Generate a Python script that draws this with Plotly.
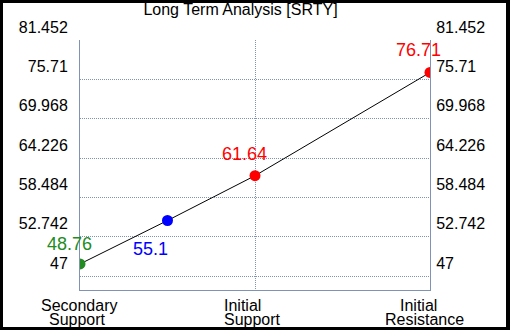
import plotly.graph_objects as go

title_text = "Long Term Analysis [SRTY]"
categories = ["Secondary Support", "Initial Support", "Initial Resistance"]
cat_pos = [0, 1, 2]
point_x = [0, 0.5, 1, 2]
point_y = [48.76, 55.1, 61.64, 76.71]
point_colors = ["#228b22", "#0000ff", "#ff0000", "#ff0000"]
y_ticks = [47, 52.742, 58.484, 64.226, 69.968, 75.71, 81.452]
y_tick_text = ["47", "52.742", "58.484", "64.226", "69.968", "75.71", "81.452"]

W, H = 510, 330
ML, MR, MT, MB = 80, 80, 40, 40
PW, PH = W - ML - MR, H - MT - MB
axis_color = "#8093b3"
font_family = "Liberation Sans, Arial, sans-serif"

def px_x(p):
    return (p - ML) / PW

def px_y(p):
    return (H - MB - p) / PH

fig = go.Figure()
fig.add_trace(go.Scatter(
    x=point_x, y=point_y, mode="lines+markers",
    line=dict(color="black", width=1),
    marker=dict(color=point_colors, size=11),
    hoverinfo="skip", showlegend=False,
))
# invisible trace to make the right axis render
fig.add_trace(go.Scatter(
    x=point_x, y=point_y, yaxis="y2", mode="markers",
    marker=dict(opacity=0), hoverinfo="skip", showlegend=False,
))

label_shift = [(-11, 20), (-17, -28), (-11, 22), (-12, 22)]
for xv, yv, c, (dx, dy) in zip(point_x, point_y, point_colors, label_shift):
    fig.add_annotation(
        x=xv, y=yv, xref="x", yref="y", text=f"{yv:g}", showarrow=False,
        xshift=dx, yshift=dy, xanchor="center", yanchor="middle",
        font=dict(size=18, color=c, family=font_family),
    )

line_shifts = [[-1, -2.5], [-12.5, -3], [-12, -5.5]]
for cx, name, shifts in zip(cat_pos, categories, line_shifts):
    for i, (part, sx) in enumerate(zip(name.split(" "), shifts)):
        fig.add_annotation(
            x=cx, y=0, xref="x", yref="paper", text=part, showarrow=False,
            xanchor="center", yanchor="top", xshift=sx, yshift=-5 - 14 * i,
            font=dict(size=16, color="black", family=font_family),
        )

fig.add_shape(
    type="rect", xref="paper", yref="paper",
    x0=px_x(3), x1=px_x(506), y0=px_y(327), y1=px_y(3),
    fillcolor="white", line=dict(width=0), layer="below",
)

yaxis_common = dict(
    range=[44.956, 81.452], tickvals=y_ticks, ticktext=y_tick_text,
    showline=True, linecolor=axis_color, linewidth=1,
    ticks="", ticklabelshift=-13, automargin=False,
    tickfont=dict(size=16, color="black", family=font_family),
    zeroline=False,
)

fig.update_layout(
    width=W, height=H,
    margin=dict(l=ML, r=MR, t=MT, b=MB, pad=0, autoexpand=False),
    paper_bgcolor="black", plot_bgcolor="white",
    title=dict(text=title_text, x=240.5 / W, xanchor="center",
               xref="container", y=1 - 4 / H, yref="container", yanchor="top",
               pad=dict(t=0, b=0), automargin=False,
               font=dict(size=16, color="black", family=font_family)),
    xaxis=dict(range=[0, 2], tickvals=cat_pos, showticklabels=False,
               showgrid=True, gridcolor=axis_color, griddash="1px,1px", gridwidth=1,
               showline=True, linecolor=axis_color, linewidth=1,
               zeroline=False, ticks="", automargin=False),
    yaxis=dict(**yaxis_common, side="left", ticklabelstandoff=8,
               showgrid=True, gridcolor=axis_color, griddash="1px,1px", gridwidth=1),
    yaxis2=dict(**yaxis_common, side="right", overlaying="y",
                ticklabelstandoff=2, showgrid=False),
)

fig.write_html(
    "out.html",
    config={"displayModeBar": False},
    post_script="document.body.style.margin='0';document.body.style.overflow='hidden';",
)
